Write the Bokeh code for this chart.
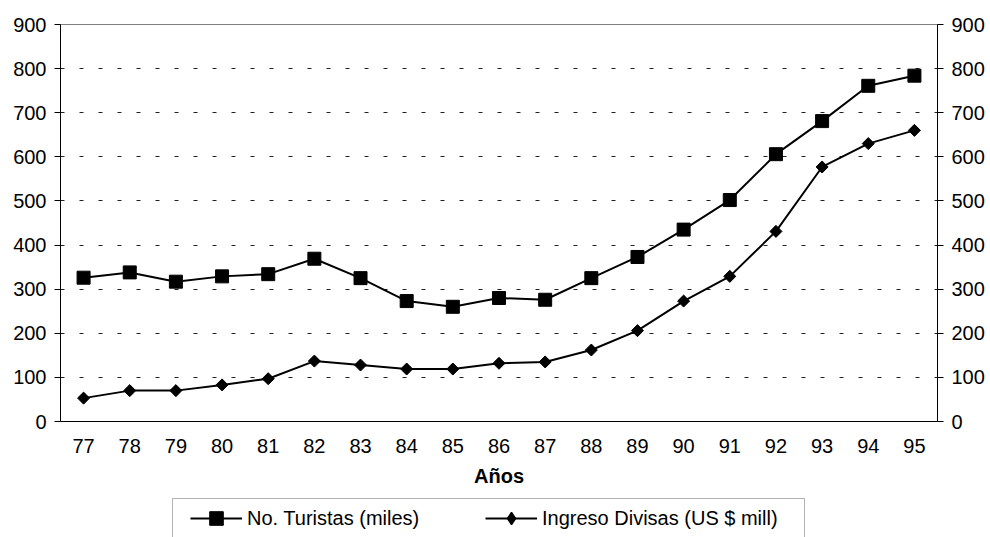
from math import pi

from bokeh.embed import file_html
from bokeh.layouts import column
from bokeh.models import (BoxAnnotation, FactorRange, FixedTicker, Legend,
                          LegendItem, LinearAxis, Range1d)
from bokeh.plotting import figure
from bokeh.resources import INLINE

# Años (últimos dos dígitos)
years = ["77", "78", "79", "80", "81", "82", "83", "84", "85", "86",
         "87", "88", "89", "90", "91", "92", "93", "94", "95"]

# No. de turistas (miles)
turistas = [326, 338, 317, 329, 334, 369, 325, 273, 260, 280,
            276, 325, 373, 435, 502, 606, 681, 761, 784]

# Ingreso de divisas (millones de US $)
divisas = [53, 70, 70, 83, 97, 137, 128, 119, 119, 132,
           135, 162, 206, 273, 329, 431, 577, 630, 660]

y_ticks = [0, 100, 200, 300, 400, 500, 600, 700, 800, 900]
grid_ticks = [100, 200, 300, 400, 500, 600, 700, 800]

FONT = "Liberation Sans"
FS = "20px"
W = 990
CHART_H = 495
LEGEND_H = 537 - CHART_H

p = figure(
    width=W, height=CHART_H,
    x_range=FactorRange(*years, range_padding=0),
    y_range=Range1d(0, 900),
    output_backend="svg", toolbar_location=None,
    min_border_left=60, min_border_right=53,
    min_border_top=24, min_border_bottom=CHART_H - 421,
    background_fill_color="white", border_fill_color="white",
)
p.outline_line_color = "#808080"
p.outline_line_width = 1

# dashed horizontal gridlines
p.xgrid.grid_line_color = None
p.ygrid.ticker = FixedTicker(ticks=grid_ticks)
p.ygrid.grid_line_color = "#222222"
p.ygrid.grid_line_dash = "4 15"
p.ygrid.grid_line_width = 1

# right-hand axis mirrors the left one
p.extra_y_ranges = {"right": Range1d(0, 900)}
right_axis = LinearAxis(y_range_name="right")
p.add_layout(right_axis, "right")

for ax in (p.yaxis[0], right_axis):
    ax.ticker = FixedTicker(ticks=y_ticks)
    ax.axis_line_color = "black"
    ax.axis_line_width = 1
    ax.major_tick_line_color = "black"
    ax.major_tick_out = 6
    ax.major_tick_in = 0
    ax.minor_tick_line_color = None
    ax.major_label_text_font = FONT
    ax.major_label_text_font_size = FS
    ax.major_label_text_color = "black"
    ax.major_label_standoff = 8

xa = p.xaxis[0]
xa.axis_line_color = "black"
xa.axis_line_width = 1
xa.major_tick_line_color = None
xa.minor_tick_line_color = None
xa.major_tick_out = 0
xa.major_tick_in = 0
xa.major_label_text_font = FONT
xa.major_label_text_font_size = FS
xa.major_label_text_color = "black"
xa.major_label_standoff = 17
xa.axis_label = "Años"
xa.axis_label_text_font = FONT
xa.axis_label_text_font_size = FS
xa.axis_label_text_font_style = "bold"
xa.axis_label_text_color = "black"
xa.axis_label_standoff = 9

# series
line_style = dict(line_color="black", line_width=2)
square_style = dict(marker="square", size=13, fill_color="black", line_color="black")

p.line(years, turistas, **line_style)
p.scatter(years, turistas, **square_style)
p.line(years, divisas, **line_style)
p.scatter(years, divisas, marker="square", angle=pi / 4, size=8.5,
          fill_color="black", line_color="black")

# legend strip below the chart; key glyphs are styled like the series
lg = figure(
    width=W, height=LEGEND_H,
    x_range=Range1d(0, 1), y_range=Range1d(0, 1),
    x_axis_location=None, y_axis_location=None,
    output_backend="svg", toolbar_location=None,
    min_border=0, outline_line_color=None,
    background_fill_color="white", border_fill_color="white",
)
lg.grid.visible = False
key_x, key_y = [-5, -6], [-5, -6]
k1 = [lg.line(key_x, key_y, **line_style),
      lg.scatter(key_x, key_y, **square_style)]
k2 = [lg.line(key_x, key_y, **line_style),
      lg.scatter(key_x, key_y, marker="diamond", size=12,
                 fill_color="black", line_color="black", line_width=1.5)]

# frame around both legend entries
lg.add_layout(BoxAnnotation(
    left=112, right=744, top=39, bottom=-6,
    left_units="screen", right_units="screen",
    top_units="screen", bottom_units="screen",
    fill_color=None, line_color="black", line_width=1,
))

common = dict(
    orientation="horizontal", padding=0, spacing=0, margin=0,
    glyph_width=52, label_standoff=5,
    label_text_font=FONT, label_text_font_size=FS, label_text_color="black",
    border_line_color=None, background_fill_alpha=0,
)
leg1 = Legend(items=[LegendItem(label="No. Turistas (miles)", renderers=k1)],
              location=(130, 2), glyph_height=34, label_height=34, **common)
leg2 = Legend(items=[LegendItem(label="Ingreso Divisas (US $ mill)", renderers=k2)],
              location=(425, 4), glyph_height=30, label_height=30, **common)
lg.add_layout(leg1, "center")
lg.add_layout(leg2, "center")

page = column(p, lg, spacing=0)
open("out.html", "w").write(file_html(page, INLINE))
